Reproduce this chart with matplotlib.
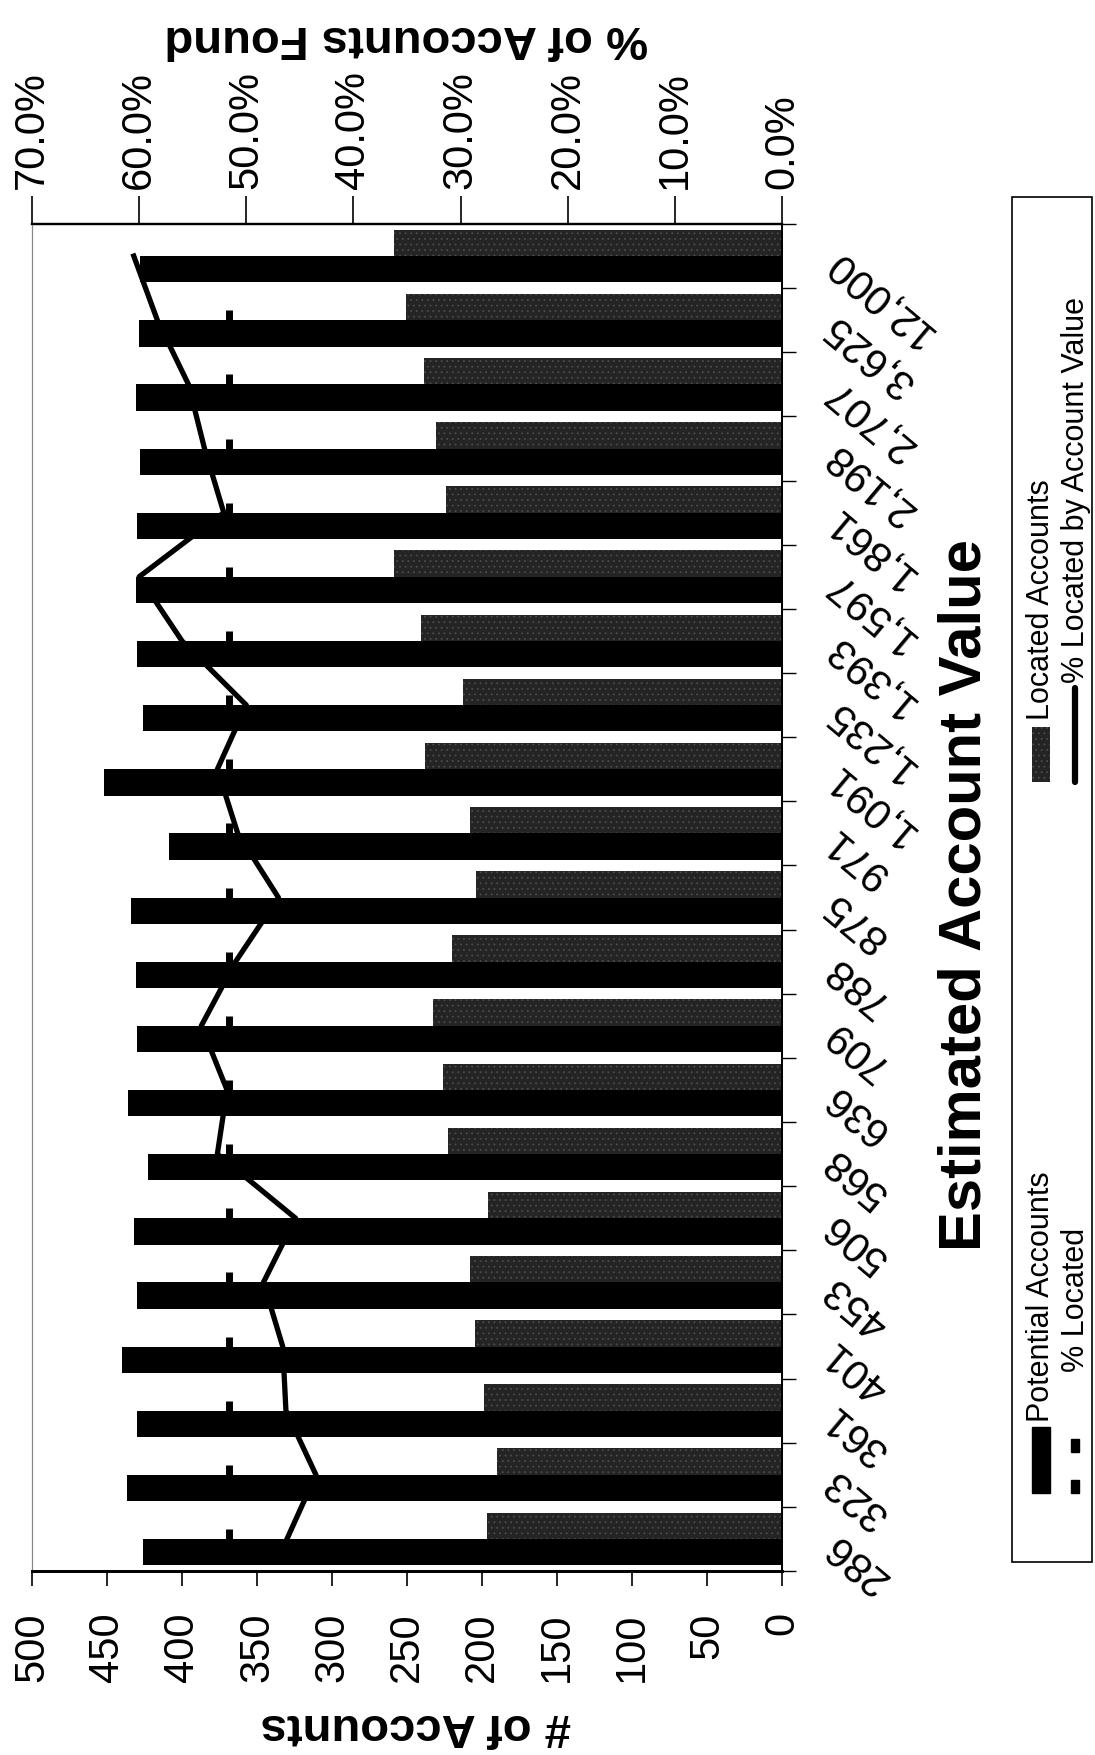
import matplotlib
matplotlib.use("Agg")
import matplotlib.pyplot as plt
import numpy as np
from matplotlib.patches import Rectangle
from matplotlib.lines import Line2D

plt.rcParams["font.family"] = ["Liberation Sans", "DejaVu Sans"]
plt.rcParams["hatch.linewidth"] = 0.6

# estimated account value buckets, lowest first
account_values = ["286", "323", "361", "401", "453", "506", "568", "636", "709",
                  "788", "875", "971", "1,091", "1,235", "1,393", "1,597", "1,861",
                  "2,198", "2,707", "3,625", "12,000"]
potential_accounts = [426, 437, 430, 440, 430, 432, 423, 436, 430, 431, 434,
                      409, 452, 426, 430, 431, 430, 428, 431, 429, 428]
located_accounts = [197, 190, 199, 205, 208, 196, 223, 226, 233, 220, 204,
                    208, 238, 213, 241, 259, 224, 231, 239, 251, 259]
pct_located_by_value = [46.2, 43.5, 46.3, 46.6, 48.4, 45.4, 52.7, 51.8, 54.2, 51.0, 47.0,
                        50.8, 52.7, 50.0, 56.0, 60.0, 52.1, 53.9, 55.4, 58.3, 60.5]
pct_located_overall = [51.6, 51.6, 51.6, 51.6, 51.6, 51.6, 51.6, 51.6, 51.6, 51.6, 51.6,
                       51.6, 51.6, 51.6, 51.6, 51.6, 51.6, 51.6, 51.6, 51.6, np.nan]
pct_ticks = [0, 10, 20, 30, 40, 50, 60, 70]
count_ticks = [0, 50, 100, 150, 200, 250, 300, 350, 400, 450, 500]

W, H = 1095, 1756


def fx(px):
    return px / W


def fy(py):
    return 1 - py / H


located_color = "#242424"
stipple_color = "#4c4c4c"

fig = plt.figure(figsize=(W / 100, H / 100), dpi=100)
fig.patch.set_facecolor("white")
ax = fig.add_axes([fx(32), fy(1572), fx(782) - fx(32), fy(225) - fy(1572)])

pos = np.arange(len(account_values))
ax.barh(pos - 0.205, potential_accounts, height=0.41, color="black", zorder=2)
ax.barh(pos + 0.205, located_accounts, height=0.41, facecolor=located_color,
        edgecolor=stipple_color, hatch="...", linewidth=0, zorder=2)
ax.set_xlim(500, 0)
ax.set_ylim(-0.5, len(account_values) - 0.5)

ax.set_xticks(count_ticks)
ax.tick_params(axis="x", labelrotation=90, labelsize=30, length=11, width=1.2,
               pad=18, direction="out")

# category axis sits on the right side
ax.yaxis.tick_right()
ax.set_yticks(pos)
ax.set_yticklabels(account_values, rotation=140, rotation_mode="anchor",
                   ha="right", va="center", fontsize=30)
ax.set_yticks(np.arange(-0.5, len(account_values)), minor=True)
ax.tick_params(axis="y", which="major", length=0, pad=34)
ax.tick_params(axis="y", which="minor", length=10, width=1)

# percentage scale along the top
ax2 = ax.twiny()
ax2.set_xlim(70, 0)
ax2.set_xticks(pct_ticks)
ax2.set_xticklabels([f"{v:.1f}%" for v in pct_ticks], rotation=90, fontsize=30)
ax2.tick_params(axis="x", length=20, width=1.2, pad=6)
ax2.plot(pct_located_by_value, pos, color="black", lw=3.8, zorder=5)
ax2.plot(pct_located_overall, pos, ls="none", marker="|", ms=15, mew=5,
         color="black", zorder=6)

for a in (ax, ax2):
    a.spines["left"].set_color("#888888")
    a.spines["left"].set_linewidth(0.8)
    a.spines["top"].set_linewidth(1.6)
    a.spines["bottom"].set_linewidth(2)
    a.spines["right"].set_linewidth(1.4)

fig.text(fx(406), fy(38), "% of Accounts Found", rotation=180, ha="center",
         va="center", fontsize=34, fontweight="bold")
fig.text(fx(416), fy(1726), "# of Accounts", rotation=180, ha="center",
         va="center", fontsize=34, fontweight="bold")
fig.text(fx(965), fy(895), "Estimated Account Value", rotation=90, ha="center",
         va="center", fontsize=43, fontweight="bold")

# legend box, drawn by hand so it can run sideways
fig.add_artist(Rectangle((fx(1012), fy(1563)), fx(1092) - fx(1012), fy(198) - fy(1563),
                         fill=False, edgecolor="black", lw=1.2, transform=fig.transFigure))
fig.add_artist(Rectangle((fx(1032), fy(783)), fx(1050) - fx(1032), fy(728) - fy(783),
                         facecolor=located_color, edgecolor=stipple_color, hatch="...",
                         linewidth=0, transform=fig.transFigure))
fig.add_artist(Rectangle((fx(1032), fy(1494)), fx(1050) - fx(1032), fy(1428) - fy(1494),
                         color="black", transform=fig.transFigure))
fig.add_artist(Line2D([fx(1075), fx(1075)], [fy(783), fy(689)], lw=4.5, color="black",
                      solid_capstyle="round", transform=fig.transFigure))
for y0, y1 in [(1440, 1453), (1481, 1494)]:
    fig.add_artist(Rectangle((fx(1071), fy(y1)), fx(1079) - fx(1071), fy(y0) - fy(y1),
                             color="black", transform=fig.transFigure))

legend_text = [
    (1041, 720, "Located Accounts"),
    (1076, 683, "% Located by Account Value"),
    (1041, 1422, "Potential Accounts"),
    (1076, 1372, "% Located"),
]
for x, y, label in legend_text:
    fig.text(fx(x), fy(y), label, rotation=90, rotation_mode="anchor", ha="left",
             va="center", fontsize=22)

fig.savefig("out.png", dpi=100)
